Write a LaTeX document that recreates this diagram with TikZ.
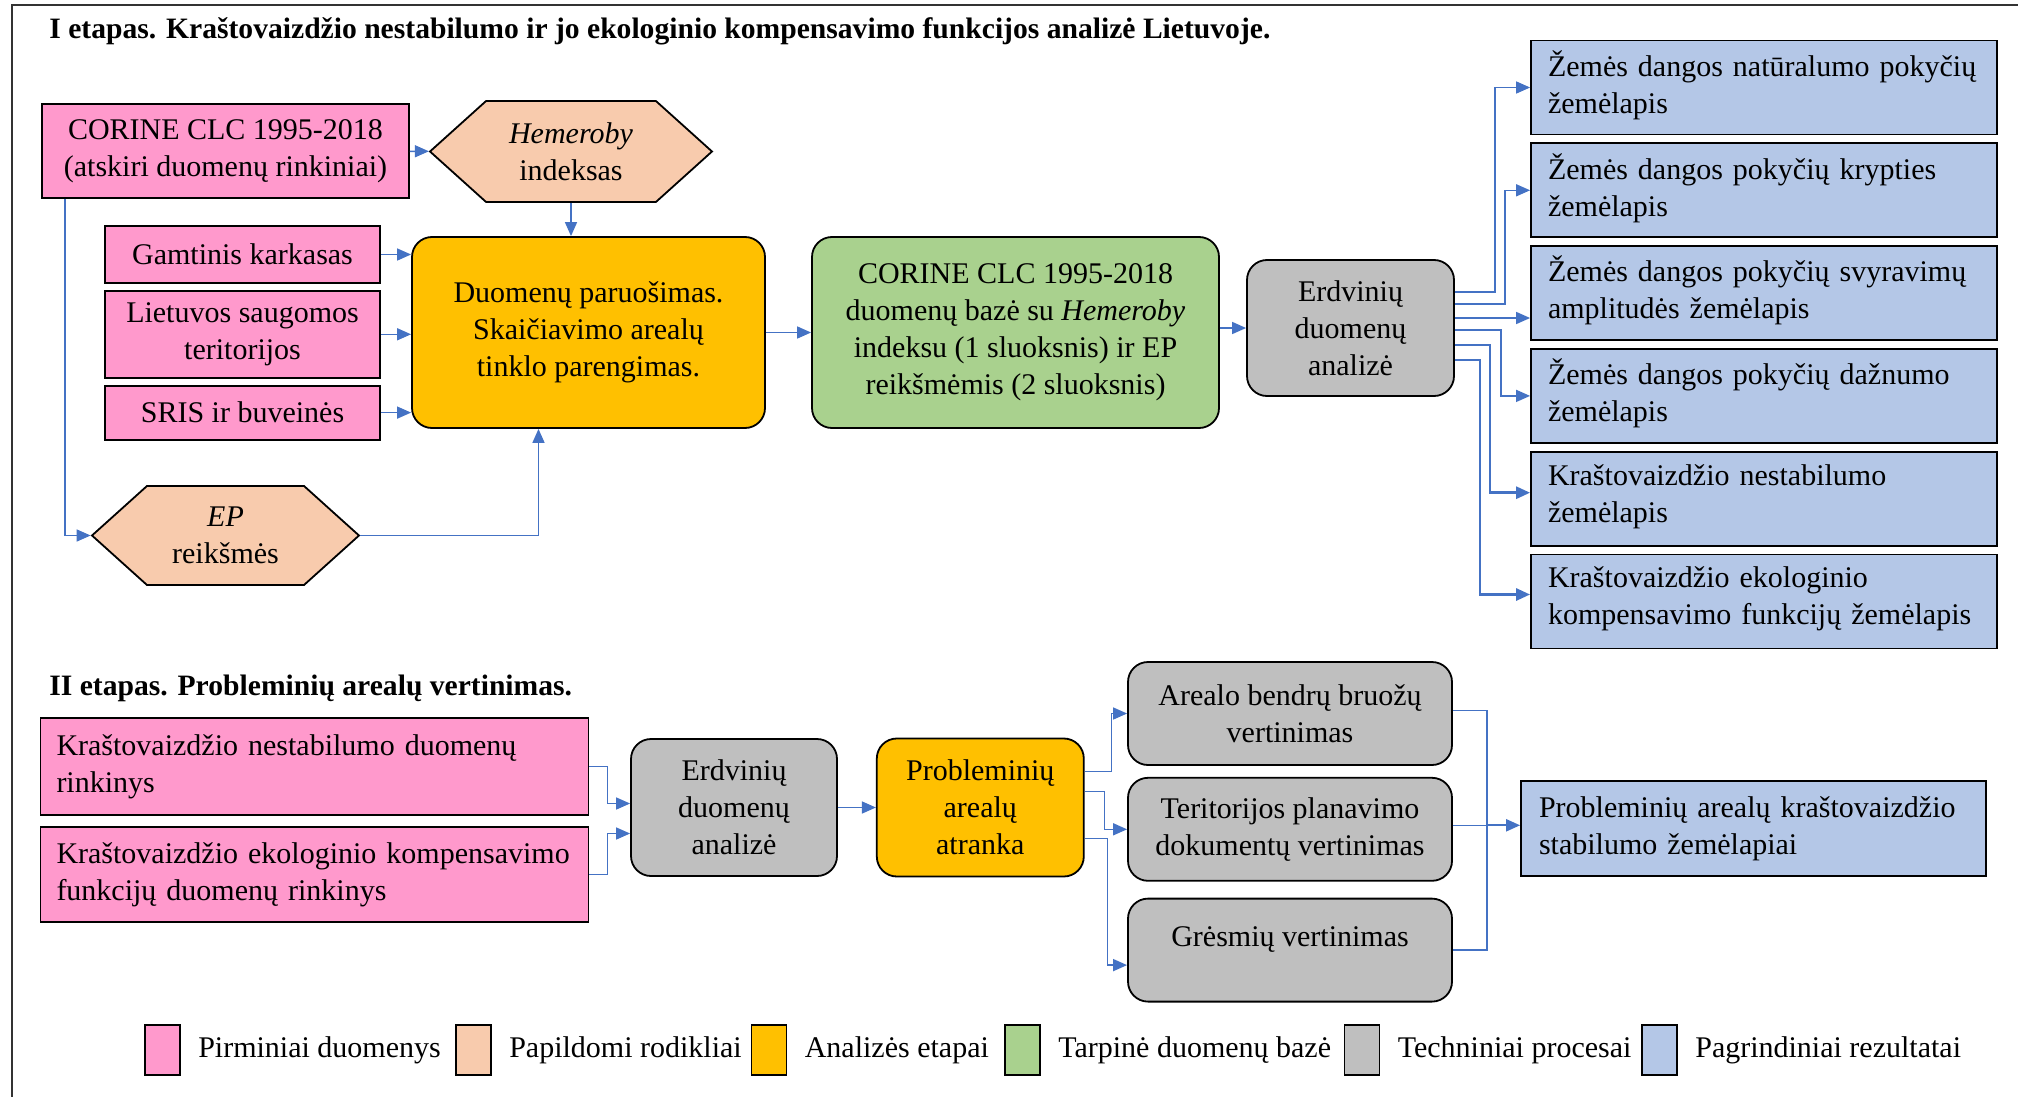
\documentclass[tikz,border=0pt]{standalone}
\usepackage{fontspec}
\setmainfont{Liberation Serif}
\usepackage{xcolor}
\usetikzlibrary{positioning,arrows.meta,shapes.symbols}

\definecolor{pinkbox}{HTML}{FF99CC}
\definecolor{peachbox}{HTML}{F8CBAD}
\definecolor{orangebox}{HTML}{FFC000}
\definecolor{greenbox}{HTML}{A9D18E}
\definecolor{graybox}{HTML}{BFBFBF}
\definecolor{bluebox}{HTML}{B4C7E7}
\definecolor{arrowblue}{HTML}{4472C4}

\begin{document}
\begin{tikzpicture}[x=0.5pt, y=-0.5pt, node distance=9pt,
  every node/.style={font=\fontsize{15pt}{18.5pt}\selectfont},
  box/.style={draw=black, line width=0.9pt, inner sep=0pt, align=center},
  prim/.style={box, fill=pinkbox},
  extra/.style={box, fill=peachbox, shape=signal, signal to=east and west, signal pointer angle=84},
  stage/.style={box, fill=orangebox, rounded corners=10pt},
  base/.style={box, fill=greenbox, rounded corners=10pt},
  tech/.style={box, fill=graybox, rounded corners=10pt},
  result/.style={box, fill=bluebox, align=left, inner xsep=8.5pt, text width=216pt},
  map/.style={result, minimum height=47pt, text depth=24pt},
  link/.style={draw=arrowblue, line width=0.75pt, -{Triangle[length=7pt,width=6pt]}},
  wire/.style={draw=arrowblue, line width=0.75pt},
  key/.style={draw=black, line width=0.9pt, minimum width=17.5pt, minimum height=25pt, inner sep=0pt},
  heading/.style={anchor=base west, inner sep=0pt, font=\fontsize{14.8pt}{18.5pt}\selectfont\bfseries}]
\useasboundingbox (0,0) rectangle (2018,1097);
\draw[line width=0.8pt, black!80] (12,1097) |- (2018,5);

\node[heading] (title1) at (49,39) {I etapas. Kraštovaizdžio nestabilumo ir jo ekologinio kompensavimo funkcijos analizė Lietuvoje.};
\node[prim, minimum width=183.5pt, minimum height=47pt] (corine) at (225.5,151) {CORINE CLC 1995-2018\\(atskiri duomenų rinkiniai)};
\node[extra, minimum width=141pt, minimum height=50.5pt] (hem) at (571,151.5) {\textit{Hemeroby}\\indeksas};
\node[prim, minimum width=137.5pt, minimum height=28.5pt] (gamt) at (242.5,254.5) {Gamtinis karkasas};
\node[prim, minimum width=137.5pt, minimum height=43.5pt, below=3pt of gamt] (liet) {Lietuvos saugomos\\teritorijos};
\node[prim, minimum width=137.5pt, minimum height=27pt, below=3pt of liet] (sris) {SRIS ir buveinės};
\node[stage, minimum width=176.5pt, minimum height=95.5pt] (paruos) at (588.5,332.5) {Duomenų paruošimas.\\Skaičiavimo arealų\\tinklo parengimas.};
\node[extra, minimum width=133.5pt, minimum height=49.5pt] (ep) at (225.5,535.5) {\textit{EP}\\reikšmės};
\node[base, minimum width=203.5pt, minimum height=95.5pt] (baze) at (1015.5,332.5) {CORINE CLC 1995-2018\\duomenų bazė su \textit{Hemeroby}\\indeksu (1 sluoksnis) ir EP\\reikšmėmis (2 sluoksnis)};
\node[tech, minimum width=103.5pt, minimum height=68pt] (erd) at (1350.5,328) {Erdvinių\\duomenų\\analizė};
\node[map] (b1) at (1764,87.5) {Žemės dangos natūralumo pokyčių\\žemėlapis};
\node[map, below=3.5pt of b1] (b2) {Žemės dangos pokyčių krypties\\žemėlapis};
\node[map, below=3.5pt of b2] (b3) {Žemės dangos pokyčių svyravimų\\amplitudės žemėlapis};
\node[map, below=3.5pt of b3] (b4) {Žemės dangos pokyčių dažnumo\\žemėlapis};
\node[map, below=3.5pt of b4] (b5) {Kraštovaizdžio nestabilumo\\žemėlapis};
\node[map, below=3.5pt of b5] (b6) {Kraštovaizdžio ekologinio\\kompensavimo funkcijų žemėlapis};

\draw[link] (corine) -- (hem);
\draw[link] (hem.south) -- (hem.south |- paruos.north);
\draw[link] (gamt.east) -- (gamt.east -| paruos.west);
\draw[link] (liet.east) -- (liet.east -| paruos.west);
\draw[link] (sris.east) -- (sris.east -| paruos.west);
\draw[link] ([xshift=12pt]corine.south west) |- (ep.west);
\draw[link] (ep.east) -| ([xshift=-25pt]paruos.south);
\draw[link] (paruos) -- (baze);
\draw[link] (erd.west -| baze.east) -- (erd.west);
\draw[link] ([yshift=18pt]erd.east) -- ++(20pt,0) |- (b1.west);
\draw[link] ([yshift=12pt]erd.east) -- ++(25pt,0) |- (b2.west);
\draw[link] ([yshift=5pt]erd.east) -- ([yshift=5pt]erd.east -| b3.west);
\draw[link] ([yshift=-1pt]erd.east) -- ++(23pt,0) |- (b4.west);
\draw[link, line width=1.4pt] ([yshift=-8.5pt]erd.east) -- ++(17.5pt,0) |- ([yshift=3pt]b5.west);
\draw[link, line width=1.4pt] ([yshift=-16pt]erd.east) -- ++(12.5pt,0) |- ([yshift=3.5pt]b6.west);

\node[heading] (title2) at (49,695) {II etapas. Probleminių arealų vertinimas.};
\node[prim, align=left, text width=258pt, inner xsep=8pt, minimum height=48.5pt] (kr1) at (314.5,766.5) {Kraštovaizdžio nestabilumo duomenų\\rinkinys};
\node[prim, align=left, text width=258pt, inner xsep=8pt, minimum height=47.5pt, below=5pt of kr1] (kr2) {Kraštovaizdžio ekologinio kompensavimo\\funkcijų duomenų rinkinys};
\node[tech, minimum width=103pt, minimum height=68.5pt] (erd2) at (734,807.5) {Erdvinių\\duomenų\\analizė};
\node[stage, minimum width=103.5pt, minimum height=69pt, right=19pt of erd2] (atr) {Probleminių\\arealų\\atranka};
\node[tech, minimum width=162pt, minimum height=51.5pt] (g1) at (1290,713.5) {Arealo bendrų bruožų\\vertinimas};
\node[tech, minimum width=162pt, minimum height=51.5pt, below=5.5pt of g1] (g2) {Teritorijos planavimo\\dokumentų vertinimas};
\node[tech, minimum width=162pt, minimum height=51.5pt, below=8pt of g2] (g3) {\raisebox{14pt}{Grėsmių vertinimas}};
\node[result, text width=214.5pt, inner xsep=9pt, minimum height=47.5pt] (res) at (1753.5,828.5) {Probleminių arealų kraštovaizdžio\\stabilumo žemėlapiai};

\draw[link] (kr1.east) -- ++(9pt,0) |- ([yshift=2pt]erd2.west);
\draw[link] (kr2.east) -- ++(9pt,0) |- ([yshift=-13pt]erd2.west);
\draw[link] (erd2) -- (atr);
\draw[link] ([yshift=18pt]atr.east) -- ++(13.5pt,0) |- (g1.west);
\draw[link] ([yshift=8pt]atr.east) -- ++(10pt,0) |- (g2.west);
\draw[link] ([yshift=-15.5pt]atr.east) -- ++(11.5pt,0) |- ([yshift=-7.5pt]g3.west);
\coordinate (join) at ([xshift=17pt,yshift=2pt]g2.east);
\draw[wire] ([yshift=1.5pt]g1.east) -| (join) |- (g3.east);
\draw[wire] (join -| g2.east) -- (join);
\draw[link, line width=1.1pt] (join) -- (join -| res.west);

\node[key, fill=pinkbox] (k1) at (162.5,1050) {};
\node[right=8.5pt of k1, inner sep=0pt] (l1) {Pirminiai duomenys};
\node[key, fill=peachbox] (k2) at (473.5,1050) {};
\node[right=8.5pt of k2, inner sep=0pt] (l2) {Papildomi rodikliai};
\node[key, fill=orangebox] (k3) at (769,1050) {};
\node[right=8.5pt of k3, inner sep=0pt] (l3) {Analizės etapai};
\node[key, fill=greenbox] (k4) at (1022.5,1050) {};
\node[right=8.5pt of k4, inner sep=0pt] (l4) {Tarpinė duomenų bazė};
\node[key, fill=graybox] (k5) at (1362,1050) {};
\node[right=8.5pt of k5, inner sep=0pt] (l5) {Techniniai procesai};
\node[key, fill=bluebox] (k6) at (1659.5,1050) {};
\node[right=8.5pt of k6, inner sep=0pt] (l6) {Pagrindiniai rezultatai};
\end{tikzpicture}
\end{document}
